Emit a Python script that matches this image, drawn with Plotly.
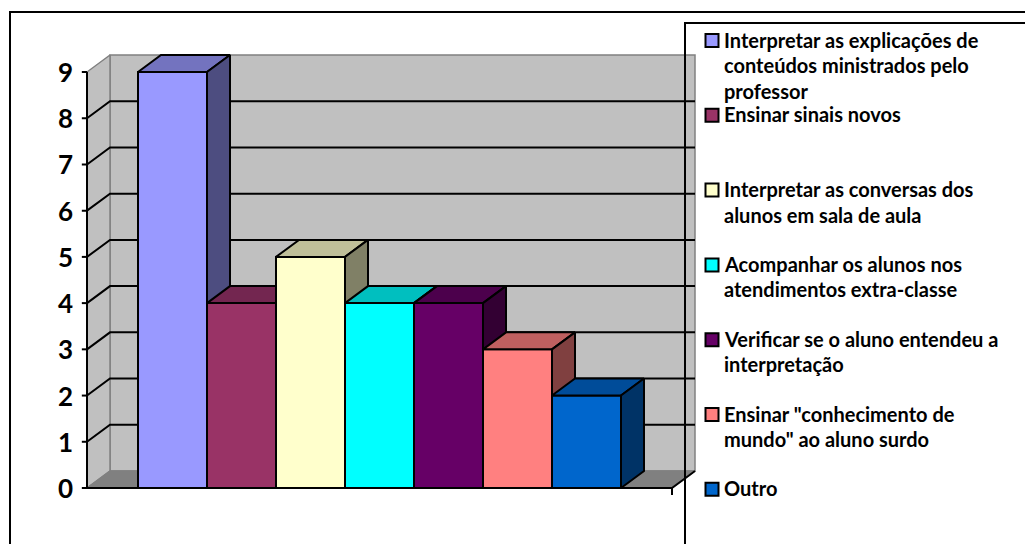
import plotly.graph_objects as go

# ---------------- data ----------------
categories = [
    "Interpretar as explicações de conteúdos ministrados pelo professor",
    "Ensinar sinais novos",
    "Interpretar as conversas dos alunos em sala de aula",
    "Acompanhar os alunos nos atendimentos extra-classe",
    "Verificar se o aluno entendeu a interpretação",
    "Ensinar \"conhecimento de mundo\" ao aluno surdo",
    "Outro",
]
legend_lines = [
    ["Interpretar as explicações de", "conteúdos ministrados pelo", "professor"],
    ["Ensinar sinais novos"],
    ["Interpretar as conversas dos", "alunos em sala de aula"],
    ["Acompanhar os alunos nos", "atendimentos extra-classe"],
    ["Verificar se o aluno entendeu a", "interpretação"],
    ["Ensinar \"conhecimento de", "mundo\" ao aluno surdo"],
    ["Outro"],
]
values = [9, 4, 5, 4, 4, 3, 2]
tick_values = [0, 1, 2, 3, 4, 5, 6, 7, 8, 9]
tick_labels = ["0", "1", "2", "3", "4", "5", "6", "7", "8", "9"]

front_colors = ["#9999FF", "#993366", "#FFFFCC", "#00FFFF", "#660066", "#FF8080", "#0066CC"]
top_colors = ["#7373BF", "#732650", "#BFBF99", "#00BFBF", "#4C004C", "#BF6060", "#004C99"]
side_colors = ["#4D4D80", "#4D1A33", "#808066", "#008080", "#330033", "#804040", "#003366"]

# ---------------- geometry (layout) ----------------
W, H = 1025, 544
PX_PER_X = 69.0        # one bar width in px
PX_PER_Y = 46.22       # one unit of value in px
X0_PX = 138.0          # left edge of first bar
Y0_PX = 488.0          # value 0
GAP = 51.0 / PX_PER_X  # space between axis and first bar
DX = 23.0 / PX_PER_X   # depth offset
DY = 17.0 / PX_PER_Y

xa, xb = -1.5, 7.8
ya, yb = -0.5, 9.6
def px_x(x):
    return X0_PX + PX_PER_X * (x + 0.5)
def px_y(y):
    return Y0_PX - PX_PER_Y * y

xdom = [px_x(xa) / W, px_x(xb) / W]
ydom = [(H - px_y(ya)) / H, (H - px_y(yb)) / H]

n = len(values)
vmax = max(tick_values)
x_left = -0.5 - GAP
x_right = (n - 0.5) + GAP

fig = go.Figure()

def poly(xs, ys, fill, line_color="black", lw=2):
    fig.add_trace(go.Scatter(
        x=list(xs) + [xs[0]], y=list(ys) + [ys[0]],
        mode="lines", fill="toself", fillcolor=fill,
        line=dict(color=line_color, width=lw),
        hoverinfo="skip", showlegend=False))

def seg(xs, ys, color="black", lw=2):
    fig.add_trace(go.Scatter(
        x=xs, y=ys, mode="lines", line=dict(color=color, width=lw),
        hoverinfo="skip", showlegend=False))

# back wall
poly([x_left + DX, x_right + DX, x_right + DX, x_left + DX],
     [DY, DY, vmax + DY, vmax + DY], "#C0C0C0", "#808080", 1.5)
# left wall
poly([x_left, x_left + DX, x_left + DX, x_left],
     [0, DY, vmax + DY, vmax], "#C0C0C0", "#808080", 1.5)
# floor
poly([x_left, x_right, x_right + DX, x_left + DX],
     [0, 0, DY, DY], "#808080", "#808080", 1.5)
seg([x_right, x_right + DX], [0, DY])

# gridlines
for v in tick_values[1:-1]:
    seg([x_left, x_left + DX, x_right + DX], [v, v + DY, v + DY])

# axes
seg([x_left, x_left], [0, vmax])
seg([x_left, x_right], [0, 0])
seg([x_right, x_right], [0, -0.15])
for v in tick_values:
    seg([x_left - 0.075, x_left], [v, v])

# bars
for i, v in enumerate(values):
    xl, xr = i - 0.5, i + 0.5
    poly([xl, xr, xr, xl], [0, 0, v, v], front_colors[i])
    poly([xl, xr, xr + DX, xl + DX], [v, v, v + DY, v + DY], top_colors[i])
    poly([xr, xr + DX, xr + DX, xr], [0, DY, v + DY, v], side_colors[i])

# tick labels
annotations = []
for v, t in zip(tick_values, tick_labels):
    annotations.append(dict(
        x=x_left, y=v, xref="x", yref="y", text=t, showarrow=False,
        xanchor="right", yanchor="middle", xshift=-12,
        font=dict(family="Lato", size=26, color="black", weight="bold")))

# legend (custom)
shapes = []
LEG_TOP = 39.5
LEG_STEP = 74.8
LINE_STEP = 25.5
for i, lines in enumerate(legend_lines):
    yc = LEG_TOP + i * LEG_STEP
    shapes.append(dict(type="rect", xref="paper", yref="paper",
                       x0=705.5 / W, x1=718.5 / W,
                       y0=(H - (yc + 7.5)) / H, y1=(H - (yc - 5.5)) / H,
                       fillcolor=front_colors[i], line=dict(color="black", width=2)))
    for k, ln in enumerate(lines):
        annotations.append(dict(
            x=722 / W, y=(H - (yc + k * LINE_STEP)) / H, xref="paper", yref="paper",
            text=ln, showarrow=False, xanchor="left", yanchor="middle",
            font=dict(family="Lato", size=20, color="black", weight="bold")))

# legend box and outer border
shapes.append(dict(type="rect", xref="paper", yref="paper",
                   x0=685 / W, x1=1040 / W, y0=-20 / H, y1=(H - 23) / H,
                   line=dict(color="black", width=2), fillcolor="rgba(0,0,0,0)"))
shapes.append(dict(type="rect", xref="paper", yref="paper",
                   x0=10 / W, x1=1040 / W, y0=-20 / H, y1=(H - 12) / H,
                   line=dict(color="black", width=2), fillcolor="rgba(0,0,0,0)"))

fig.update_layout(
    width=W, height=H,
    margin=dict(l=0, r=0, t=0, b=0),
    paper_bgcolor="white", plot_bgcolor="white",
    xaxis=dict(range=[xa, xb], domain=xdom, visible=False, fixedrange=True),
    yaxis=dict(range=[ya, yb], domain=ydom, visible=False, fixedrange=True),
    annotations=annotations, shapes=shapes, showlegend=False,
)

fig.write_html("out.html")
